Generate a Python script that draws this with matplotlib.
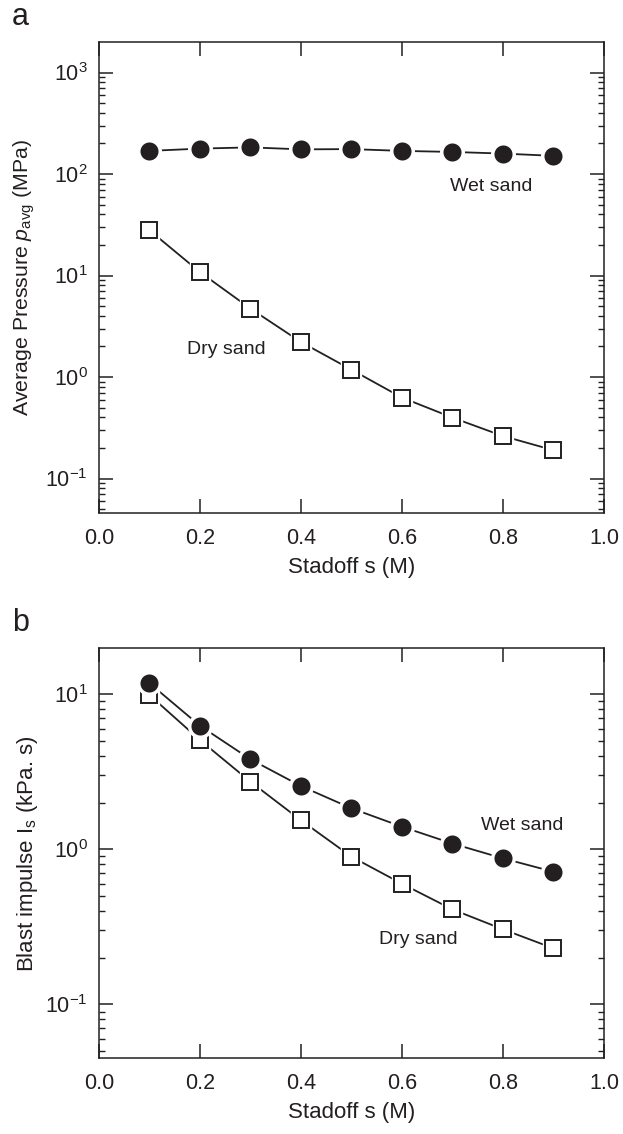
import numpy as np
import matplotlib
matplotlib.use("Agg")
import matplotlib.pyplot as plt
from matplotlib.ticker import LogLocator, NullFormatter

plt.rcParams['font.family'] = ['Liberation Sans', 'DejaVu Sans']
plt.rcParams['mathtext.fontset'] = 'custom'
plt.rcParams['mathtext.rm'] = 'Liberation Sans'
plt.rcParams['mathtext.it'] = 'Liberation Sans:italic'
plt.rcParams['font.size'] = 15.5

INK = '#231f20'

# stand-off distance (m)
standoff = [0.1, 0.2, 0.3, 0.4, 0.5, 0.6, 0.7, 0.8, 0.9]

# (a) average pressure, MPa
p_wet = [169, 178, 183, 175, 176, 169, 165, 159, 151]
p_dry = [27.9, 10.8, 4.72, 2.21, 1.18, 0.627, 0.398, 0.262, 0.19]

# (b) blast impulse, kPa.s
i_wet = [11.8, 6.27, 3.81, 2.56, 1.84, 1.40, 1.09, 0.875, 0.717]
i_dry = [9.9, 5.07, 2.73, 1.54, 0.897, 0.60, 0.41, 0.305, 0.23]

x_ticks = [0.0, 0.2, 0.4, 0.6, 0.8, 1.0]


def draw_series(ax, x, y, filled):
    ax.plot(x, y, '-', color=INK, lw=1.3, zorder=2)
    if filled:
        ax.plot(x, y, 'o', ms=15.5, mfc=INK, mec='white', mew=2.5, zorder=4)
    else:
        ax.plot(x, y, 's', ms=15, mfc='white', mec='white', lw=0, zorder=3)
        ax.plot(x, y, 's', ms=12, mfc='white', mec=INK, mew=1.4, zorder=3)


def style_axes(ax, ylim):
    ax.set_yscale('log')
    ax.set_xlim(0, 1.0)
    ax.set_ylim(*ylim)
    ax.set_xticks(x_ticks)
    ax.set_xticklabels(['%.1f' % v for v in x_ticks])
    ax.yaxis.set_major_locator(LogLocator(base=10, numticks=20))
    ax.yaxis.set_minor_locator(LogLocator(base=10, subs=np.arange(2, 10), numticks=20))
    ax.yaxis.set_minor_formatter(NullFormatter())
    ax.tick_params(which='major', direction='in', length=10, width=1.1,
                   top=True, right=True, colors=INK, labelcolor=INK)
    ax.tick_params(axis='y', which='major', pad=8)
    ax.tick_params(axis='x', which='major', pad=10.5)
    ax.tick_params(which='minor', direction='in', length=4.5, width=1.0,
                   top=True, right=True, colors=INK)
    ax.tick_params(axis='x', which='minor', top=False, bottom=False)
    for s in ax.spines.values():
        s.set_linewidth(1.1)
        s.set_color(INK)


fig = plt.figure(figsize=(6.23, 11.34), dpi=100)
ax1 = fig.add_axes([0.1589, 0.5476, 0.8106, 0.4153])
ax2 = fig.add_axes([0.1589, 0.0667, 0.8106, 0.3616])

# panel a
draw_series(ax1, standoff, p_wet, True)
draw_series(ax1, standoff, p_dry, False)
style_axes(ax1, (10 ** -1.34, 10 ** 3.3))
ax1.set_xlabel('Stadoff s (M)', color=INK, fontsize=16, labelpad=6)
ax1.set_ylabel(r'Average Pressure $p_{\rm avg}$ (MPa)', color=INK, fontsize=15.3, labelpad=6)
ax1.text(0.695, 75.7, 'Wet sand', color=INK, fontsize=14, va='center', ha='left')
ax1.text(0.174, 1.87, 'Dry sand', color=INK, fontsize=14, va='center', ha='left')

# panel b
draw_series(ax2, standoff, i_dry, False)
draw_series(ax2, standoff, i_wet, True)
style_axes(ax2, (10 ** -1.348, 10 ** 1.297))
ax2.set_xlabel('Stadoff s (M)', color=INK, fontsize=16, labelpad=6)
ax2.set_ylabel(r'Blast impulse I$_{\rm s}$ (kPa. s)', color=INK, fontsize=16, labelpad=4)
ax2.text(0.756, 1.42, 'Wet sand', color=INK, fontsize=14, va='center', ha='left')
ax2.text(0.554, 0.263, 'Dry sand', color=INK, fontsize=14, va='center', ha='left')

fig.text(12 / 623, 1 - 25 / 1134, 'a', fontsize=22, color=INK, ha='left', va='baseline')
fig.text(12 / 623, 1 - 631 / 1134, 'b', fontsize=22, color=INK, ha='left', va='baseline')

fig.savefig('out.png', dpi=100)
